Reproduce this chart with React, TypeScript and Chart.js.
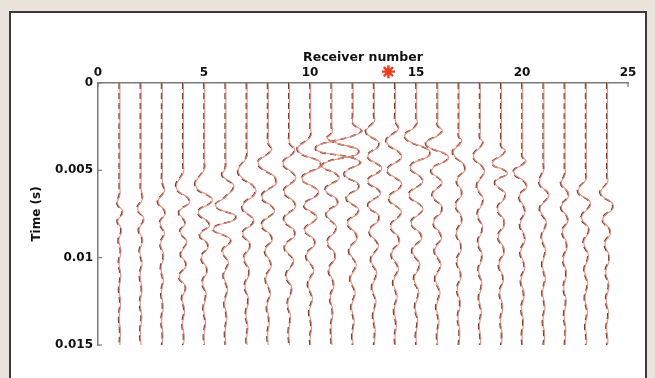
import React, { useEffect, useRef } from "react";
import { Chart, registerables } from "chart.js";

Chart.register(...registerables);

// ---- Data ----
const receivers = [1, 2, 3, 4, 5, 6, 7, 8, 9, 10, 11, 12, 13, 14, 15, 16, 17, 18, 19, 20, 21, 22, 23, 24];
const xTicks = [0, 5, 10, 15, 20, 25];
const yTicks = [0, 0.005, 0.01, 0.015];
const xTitle = "Receiver number";
const yTitle = "Time (s)";
// source marker: [receiver position, time in s]
const sourceMarker = [13.7, -0.00065];

// Each trace: [time (ms), horizontal deflection in receiver units]
const trace01 = [[0, 0], [6.0, 0], [6.4, 0], [6.9, -0.11], [7.4, 0.14], [7.9, -0.1], [8.4, 0.08], [9.0, -0.05], [9.6, 0.05], [10.3, -0.04], [11.0, 0.04], [11.8, -0.03], [12.6, 0.03], [13.4, -0.03], [14.2, 0.02], [15, 0]];
const trace02 = [[0, 0], [5.7, 0], [6.1, 0], [6.6, 0.08], [7.2, -0.16], [7.8, 0.14], [8.4, -0.1], [9.0, 0.08], [9.6, -0.06], [10.3, 0.05], [11.0, -0.05], [11.8, 0.04], [12.6, -0.04], [13.4, 0.03], [14.2, -0.03], [15, 0]];
const trace03 = [[0, 0], [5.2, 0], [5.6, 0], [6.2, 0.1], [6.8, -0.2], [7.4, 0.15], [8.0, -0.1], [8.6, 0.1], [9.2, -0.08], [9.9, 0.07], [10.6, -0.06], [11.3, 0.05], [12.0, -0.04], [12.8, 0.04], [13.6, -0.03], [14.4, 0.03], [15, 0]];
const trace04 = [[0, 0], [4.7, 0], [5.1, 0], [6.0, -0.33], [6.75, 0.3], [7.4, -0.2], [8.0, 0.1], [8.5, -0.15], [9.1, 0.16], [9.8, -0.12], [10.4, 0.14], [11.1, -0.2], [11.7, 0.12], [12.3, -0.06], [13.0, 0.05], [13.8, -0.04], [14.5, 0.03], [15, 0]];
const trace05 = [[0, 0], [4.5, 0], [4.9, 0], [5.9, -0.42], [6.7, 0.36], [7.4, -0.3], [8.1, 0.24], [8.7, -0.22], [9.3, 0.18], [10.0, -0.15], [10.7, 0.13], [11.4, -0.1], [12.1, 0.07], [12.9, -0.05], [13.7, 0.04], [14.4, -0.03], [15, 0]];
const trace06 = [[0, 0], [4.4, 0], [4.8, 0], [5.3, -0.15], [5.9, 0.38], [6.5, 0.0], [7.05, -0.47], [7.7, 0.5], [8.35, -0.58], [9.0, 0.25], [9.6, -0.15], [10.3, 0.12], [11.0, -0.1], [11.8, 0.08], [12.6, -0.06], [13.4, 0.05], [14.2, -0.03], [15, 0]];
const trace07 = [[0, 0], [3.8, 0], [4.2, 0], [5.15, -0.4], [6.15, 0.42], [7.1, -0.22], [7.9, 0.33], [8.6, -0.2], [9.3, 0.16], [10.0, -0.14], [10.8, 0.12], [11.6, -0.1], [12.4, 0.07], [13.2, -0.05], [14.0, 0.04], [14.6, -0.02], [15, 0]];
const trace08 = [[0, 0], [3.0, 0], [3.4, 0], [3.85, 0.15], [4.6, -0.47], [5.6, 0.4], [6.5, -0.3], [7.3, 0.3], [8.1, -0.3], [8.9, 0.2], [9.6, -0.15], [10.4, 0.15], [11.2, -0.12], [12.0, 0.1], [12.8, -0.06], [13.6, 0.05], [14.4, -0.03], [15, 0]];
const trace09 = [[0, 0], [3.0, 0], [3.4, 0], [3.9, 0.25], [4.6, -0.3], [5.4, 0.3], [6.2, -0.25], [7.0, 0.3], [7.8, -0.25], [8.6, 0.28], [9.4, -0.22], [10.2, 0.2], [11.0, -0.15], [11.8, 0.12], [12.6, -0.08], [13.4, 0.05], [14.2, -0.03], [15, 0]];
const trace10 = [[0, 0], [2.65, 0], [3.05, 0], [3.85, -0.6], [4.65, 0.5], [5.45, -0.4], [6.25, 0.38], [7.0, -0.3], [7.7, 0.3], [8.4, -0.28], [9.1, 0.22], [9.9, -0.2], [10.7, 0.15], [11.5, -0.12], [12.3, 0.08], [13.1, -0.06], [13.9, 0.04], [14.6, -0.02], [15, 0]];
const trace11 = [[0, 0], [2.45, 0], [2.85, 0], [3.2, -0.2], [3.95, 1.3], [4.7, -0.45], [5.4, 0.35], [6.1, -0.3], [6.8, 0.3], [7.5, -0.25], [8.3, 0.22], [9.1, -0.2], [9.9, 0.18], [10.7, -0.14], [11.5, 0.1], [12.3, -0.07], [13.1, 0.05], [13.9, -0.03], [15, 0]];
const trace12 = [[0, 0], [1.9, 0], [2.3, 0], [2.8, 0.4], [3.75, -1.75], [4.5, 0.35], [5.2, -0.4], [5.9, 0.3], [6.6, -0.3], [7.3, 0.28], [8.0, -0.25], [8.8, 0.2], [9.6, -0.18], [10.4, 0.15], [11.2, -0.12], [12.0, 0.1], [12.8, -0.07], [13.6, 0.05], [14.4, -0.03], [15, 0]];
const trace13 = [[0, 0], [1.8, 0], [2.2, 0], [2.8, -0.38], [3.5, 0.25], [4.2, -0.3], [4.9, 0.35], [5.6, -0.3], [6.3, 0.3], [7.0, -0.28], [7.7, 0.25], [8.5, -0.22], [9.3, 0.2], [10.1, -0.15], [10.9, 0.12], [11.7, -0.1], [12.5, 0.08], [13.3, -0.05], [14.1, 0.04], [15, 0]];
const trace14 = [[0, 0], [1.8, 0], [2.2, 0], [2.6, 0.15], [3.35, -0.42], [4.2, 0.3], [5.0, -0.38], [5.8, 0.3], [6.6, -0.3], [7.4, 0.28], [8.2, -0.22], [9.0, 0.2], [9.8, -0.18], [10.6, 0.14], [11.4, -0.1], [12.2, 0.08], [13.0, -0.06], [13.8, 0.04], [14.5, -0.02], [15, 0]];
const trace15 = [[0, 0], [2.0, 0], [2.4, 0], [3.1, -0.55], [4.0, 0.65], [4.8, -0.3], [5.6, 0.3], [6.4, -0.35], [7.2, 0.3], [8.0, -0.25], [8.8, 0.25], [9.6, -0.2], [10.4, 0.15], [11.2, -0.12], [12.0, 0.1], [12.8, -0.07], [13.6, 0.05], [14.4, -0.03], [15, 0]];
const trace16 = [[0, 0], [2.0, 0], [2.4, 0], [2.8, 0.2], [3.5, -0.55], [4.25, 0.5], [5.0, -0.3], [5.7, 0.2], [6.4, -0.25], [7.2, 0.22], [8.0, -0.2], [8.8, 0.18], [9.6, -0.15], [10.4, 0.15], [11.2, -0.12], [12.0, 0.1], [12.8, -0.07], [13.6, 0.05], [14.4, -0.03], [15, 0]];
const trace17 = [[0, 0], [2.65, 0], [3.05, 0], [3.35, 0.12], [4.0, -0.28], [4.85, 0.3], [5.6, -0.1], [6.3, 0.15], [7.0, -0.15], [7.8, 0.15], [8.6, -0.12], [9.4, 0.12], [10.2, -0.1], [11.0, 0.1], [11.8, -0.08], [12.6, 0.06], [13.4, -0.05], [14.2, 0.03], [15, 0]];
const trace18 = [[0, 0], [2.75, 0], [3.15, 0], [3.45, 0.14], [4.2, -0.32], [5.0, 0.2], [5.9, -0.15], [6.7, 0.15], [7.5, -0.12], [8.3, 0.12], [9.1, -0.1], [9.9, 0.1], [10.7, -0.08], [11.5, 0.08], [12.3, -0.06], [13.1, 0.05], [13.9, -0.04], [14.6, 0.02], [15, 0]];
const trace19 = [[0, 0], [3.2, 0], [3.6, 0], [3.95, 0.18], [4.6, -0.42], [5.15, 0.28], [5.7, -0.3], [6.4, 0.2], [7.2, -0.18], [8.0, 0.16], [8.8, -0.15], [9.6, 0.14], [10.4, -0.12], [11.2, 0.1], [12.0, -0.08], [12.8, 0.06], [13.6, -0.04], [14.4, 0.03], [15, 0]];
const trace20 = [[0, 0], [3.8, 0], [4.2, 0], [4.5, 0.15], [5.1, -0.42], [5.85, 0.2], [6.5, -0.15], [7.3, 0.12], [8.1, -0.12], [8.9, 0.12], [9.7, -0.1], [10.5, 0.1], [11.3, -0.08], [12.1, 0.07], [12.9, -0.05], [13.7, 0.04], [14.4, -0.03], [15, 0]];
const trace21 = [[0, 0], [4.55, 0], [4.95, 0], [5.75, -0.2], [6.4, 0.24], [7.2, -0.18], [8.0, 0.12], [8.8, -0.1], [9.6, 0.08], [10.4, -0.07], [11.2, 0.07], [12.0, -0.06], [12.8, 0.05], [13.6, -0.04], [14.4, 0.03], [15, 0]];
const trace22 = [[0, 0], [4.85, 0], [5.25, 0], [5.75, -0.18], [6.4, 0.18], [7.1, -0.18], [7.8, 0.15], [8.5, -0.12], [9.3, 0.1], [10.1, -0.08], [10.9, 0.07], [11.7, -0.06], [12.5, 0.05], [13.3, -0.04], [14.1, 0.03], [15, 0]];
const trace23 = [[0, 0], [5.1, 0], [5.5, 0], [6.2, -0.38], [6.9, 0.2], [7.7, -0.22], [8.4, 0.14], [9.1, -0.12], [9.9, 0.1], [10.7, -0.08], [11.5, 0.07], [12.3, -0.06], [13.1, 0.05], [13.9, -0.04], [14.6, 0.02], [15, 0]];
const trace24 = [[0, 0], [5.3, 0], [5.7, 0], [6.3, -0.32], [7.05, 0.28], [7.8, -0.22], [8.5, 0.15], [9.2, -0.12], [10.0, 0.1], [10.8, -0.08], [11.6, 0.07], [12.4, -0.06], [13.2, 0.05], [14.0, -0.04], [14.7, 0.02], [15, 0]];

const traces = [
  trace01, trace02, trace03, trace04, trace05, trace06, trace07, trace08,
  trace09, trace10, trace11, trace12, trace13, trace14, trace15, trace16,
  trace17, trace18, trace19, trace20, trace21, trace22, trace23, trace24,
];

// ---- Styling ----
const FONT = "'DejaVu Sans', 'Liberation Sans', Arial, sans-serif";
const DARK = "#4e4646";
const RED = "#f28a72";
const AXIS = "#7a7a7a";
const STAR = "#f0381c";

const redShiftPlugin = {
  id: "redShift",
  beforeDatasetDraw(chart: any, args: any) {
    const ds = chart.data.datasets[args.index];
    if (ds && ds.shiftPx) {
      chart.ctx.save();
      chart.ctx.translate(ds.shiftPx, 0);
    }
  },
  afterDatasetDraw(chart: any, args: any) {
    const ds = chart.data.datasets[args.index];
    if (ds && ds.shiftPx) chart.ctx.restore();
  },
};

const inwardTicksPlugin = {
  id: "inwardTicks",
  beforeDatasetsDraw(chart: any) {
    const { ctx, chartArea, scales } = chart;
    ctx.save();
    ctx.strokeStyle = AXIS;
    ctx.lineWidth = 1.2;
    yTicks.forEach((v) => {
      const py = scales.y.getPixelForValue(v);
      ctx.beginPath();
      ctx.moveTo(chartArea.left, py);
      ctx.lineTo(chartArea.left + 4, py);
      ctx.stroke();
    });
    xTicks.forEach((v) => {
      const px = scales.x.getPixelForValue(v);
      ctx.beginPath();
      ctx.moveTo(px, chartArea.top);
      ctx.lineTo(px, chartArea.top + 4);
      ctx.stroke();
    });
    ctx.restore();
  },
};

// The source marker sits above the plot area; draw its point element without area clipping.
const outsideMarkerPlugin = {
  id: "outsideMarker",
  afterDatasetsDraw(chart: any) {
    const meta = chart.getDatasetMeta(0);
    meta.data.forEach((el: any) => el.draw(chart.ctx));
  },
};

export default function App() {
  const canvasRef = useRef<HTMLCanvasElement | null>(null);

  useEffect(() => {
    const canvas = canvasRef.current;
    if (!canvas) return;

    const toPoints = (tr: number[][], i: number) =>
      tr.map(([t, a]) => ({ x: receivers[i] + a, y: t / 1000 }));

    const blackSets = traces.map((tr, i) => ({
      label: `obs ${receivers[i]}`,
      data: toPoints(tr, i),
      showLine: true,
      borderColor: DARK,
      borderWidth: 1.6,
      borderDash: [6, 4],
      tension: 0.5,
      pointRadius: 0,
      pointHoverRadius: 0,
    }));
    const redSets = traces.map((tr, i) => ({
      label: `syn ${receivers[i]}`,
      data: toPoints(tr, i),
      showLine: true,
      borderColor: RED,
      borderWidth: 1.1,
      tension: 0.5,
      pointRadius: 0,
      pointHoverRadius: 0,
      shiftPx: 0.7,
    }));
    const star = {
      label: "source",
      data: [{ x: sourceMarker[0], y: sourceMarker[1] }],
      showLine: false,
      pointStyle: "star",
      pointRadius: 6.5,
      borderColor: STAR,
      backgroundColor: STAR,
      pointBorderWidth: 2.4,
      borderWidth: 2.4,
      clip: false,
    };

    const chart = new Chart(canvas, {
      type: "scatter",
      data: { datasets: [star, ...redSets, ...blackSets] as any },
      options: {
        responsive: false,
        animation: false,
        devicePixelRatio: 1,
        events: [],
        layout: { padding: { left: 0, top: 0, right: 27, bottom: 33 } },
        plugins: { legend: { display: false }, tooltip: { enabled: false } },
        scales: {
          x: {
            type: "linear",
            position: "top",
            min: 0,
            max: 25,
            afterBuildTicks: (s: any) => {
              s.ticks = xTicks.map((v) => ({ value: v }));
            },
            afterFit: (s: any) => {
              s.height = 83;
            },
            grid: { display: false, drawTicks: false },
            border: { display: true, color: AXIS, width: 1.5 },
            ticks: {
              padding: 3,
              color: "#111",
              maxRotation: 0,
              autoSkip: false,
              font: { family: FONT, weight: "bold", size: 12 },
              callback: (v: any) => String(v),
            },
            title: {
              display: true,
              text: xTitle,
              color: "#111",
              font: { family: FONT, weight: "bold", size: 12.5 },
              padding: { top: 50, bottom: 0 },
            },
          },
          y: {
            type: "linear",
            reverse: true,
            min: 0,
            max: 0.015,
            afterBuildTicks: (s: any) => {
              s.ticks = yTicks.map((v) => ({ value: v }));
            },
            afterFit: (s: any) => {
              s.width = 98;
            },
            grid: { display: false, drawTicks: false },
            border: { display: true, color: AXIS, width: 1.5 },
            ticks: {
              padding: 5,
              color: "#111",
              autoSkip: false,
              font: { family: FONT, weight: "bold", size: 12 },
              callback: (v: any) => (v === 0 ? "0" : String(Number(Number(v).toFixed(3)))),
            },
            title: {
              display: true,
              text: yTitle,
              color: "#111",
              font: { family: FONT, weight: "bold", size: 12 },
              padding: { top: 30, bottom: 0 },
            },
          },
        },
      } as any,
      plugins: [redShiftPlugin, inwardTicksPlugin, outsideMarkerPlugin],
    });

    return () => chart.destroy();
  }, []);

  return (
    <div
      style={{
        position: "fixed",
        left: 0,
        top: 0,
        width: 655,
        height: 378,
        background: "#ebe4dd",
        overflow: "hidden",
      }}
    >
      <div
        style={{
          position: "absolute",
          left: 9,
          top: 11,
          width: 638,
          height: 400,
          boxSizing: "border-box",
          border: "2px solid #3a3a3a",
          background: "#ffffff",
        }}
      />
      <canvas
        ref={canvasRef}
        width={655}
        height={378}
        style={{ position: "absolute", left: 0, top: 0, width: 655, height: 378, display: "block" }}
      />
    </div>
  );
}
